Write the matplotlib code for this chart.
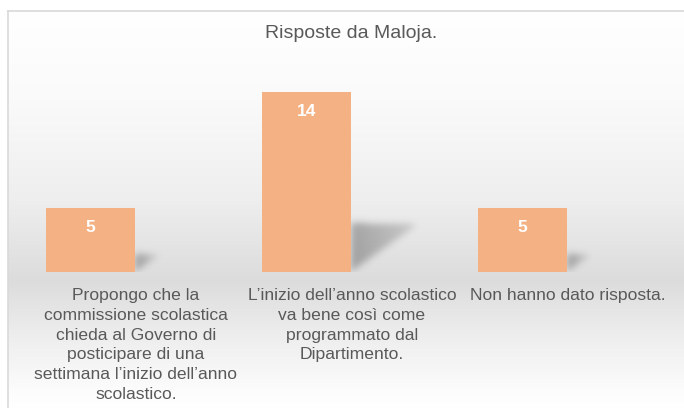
import matplotlib
matplotlib.use("Agg")

import matplotlib.pyplot as plt
import numpy as np

# ---------------------------------------------------------------------------
# Data
# ---------------------------------------------------------------------------
TITLE = "Risposte da Maloja."
categories = [
    "Propongo che la\ncommissione scolastica\nchieda al Governo di\n"
    "posticipare di una\nsettimana l’inizio dell’anno\nscolastico.",
    "L’inizio dell’anno scolastico\nva bene così come\nprogrammato dal\nDipartimento.",
    "Non hanno dato risposta.",
]
values = [5, 14, 5]

# ---------------------------------------------------------------------------
# Styles
# ---------------------------------------------------------------------------
W, H, DPI = 684, 408, 100
BAR_COLOR = "#F4B183"
TEXT_COLOR = "#595959"
BORDER_COLOR = "#D9D9D9"
FONT = "Liberation Sans"
BAR_WIDTH = 0.412
LABEL_SHIFT = 0.21  # category labels sit right of the bar centre


def _gauss_blur(img, sigma):
    """Separable gaussian blur, numpy only."""
    r = int(3 * sigma)
    k = np.exp(-0.5 * (np.arange(-r, r + 1) / sigma) ** 2)
    k /= k.sum()
    img = np.apply_along_axis(lambda m: np.convolve(m, k, mode="same"), 0, img)
    img = np.apply_along_axis(lambda m: np.convolve(m, k, mode="same"), 1, img)
    return img


fig = plt.figure(figsize=(W / DPI, H / DPI), dpi=DPI)

# chart-area background: vertical grey gradient
chart_left, chart_top = 8, 11
bg = fig.add_axes([chart_left / W, 0, 1 - chart_left / W, (H - chart_top) / H])
stops_px = [11, 100, 200, 280, 330, 390, 408]
stops_val = [255, 250, 238, 220, 236, 252, 255]
ys = np.arange(chart_top, H)
col = np.interp(ys, stops_px, stops_val) / 255.0
grad = np.repeat(np.repeat(col[:, None, None], 3, axis=2), 4, axis=1)
bg.imshow(grad, aspect="auto", extent=[0, 1, 0, 1], interpolation="none")
bg.set_axis_off()

# border lines (top and left)
fig.add_artist(plt.Line2D([chart_left / W, 1], [1 - chart_top / H] * 2,
                          color=BORDER_COLOR, lw=1.2, transform=fig.transFigure))
fig.add_artist(plt.Line2D([chart_left / W] * 2, [0, 1 - chart_top / H],
                          color=BORDER_COLOR, lw=1.2, transform=fig.transFigure))

# plotting axes: baseline at y=272 px, top at y=60 px
base_px, top_px = 272, 60
ax = fig.add_axes([chart_left / W, (H - base_px) / H,
                   1 - chart_left / W, (base_px - top_px) / H])
ax.patch.set_alpha(0)
x = np.arange(len(values))
xlim = ((chart_left - 90.5) / 216, (W - 90.5) / 216)
ylim = (0, (base_px - top_px) / 12.85)

# soft perspective shadows behind the bars (blurred triangles)
nx, ny = W - chart_left, base_px - top_px
gx = np.linspace(xlim[0], xlim[1], nx)
gy = np.linspace(ylim[1], ylim[0], ny)
XX, YY = np.meshgrid(gx, gy)
mask = np.zeros_like(XX)
for xi, v in zip(x, values):
    xr = xi + BAR_WIDTH / 2
    sh_h = 0.27 * v
    sh_len = 0.022 * v
    u = (XX - xr) / sh_len          # 0 at bar edge, 1 at tip
    top = sh_h * (1 - 0.03 * u)
    bottom = sh_h * 0.97 * u        # hypotenuse from base corner to tip
    inside = (u >= 0) & (u <= 1) & (YY <= top) & (YY >= bottom)
    mask += np.where(inside, 1 - 0.55 * u, 0.0)
mask = _gauss_blur(mask, 3.5)
shadow = np.zeros((ny, nx, 4))
shadow[..., :3] = 0.25
shadow[..., 3] = np.clip(mask * 0.4, 0, 1)
ax.imshow(shadow, extent=[xlim[0], xlim[1], ylim[0], ylim[1]],
          aspect="auto", interpolation="bilinear", zorder=1)

bars = ax.bar(x, values, width=BAR_WIDTH, color=BAR_COLOR, zorder=2)
ax.set_xlim(*xlim)
ax.set_ylim(*ylim)
ax.set_axis_off()

for xi, v in zip(x, values):
    ax.text(xi, v - 0.93, str(v), ha="center", va="top", color="white",
            fontsize=12.5, fontweight="bold", family=FONT, zorder=3)

for xi, lab in zip(x, categories):
    ax.text(xi + LABEL_SHIFT, -1.25, lab, ha="center", va="top",
            color=TEXT_COLOR, fontsize=12.6, family=FONT,
            linespacing=1.4, clip_on=False)

fig.text(351 / W, 1 - 33 / H, TITLE, ha="center", va="center",
         color=TEXT_COLOR, fontsize=14, family=FONT)

fig.savefig("out.png", dpi=DPI)
